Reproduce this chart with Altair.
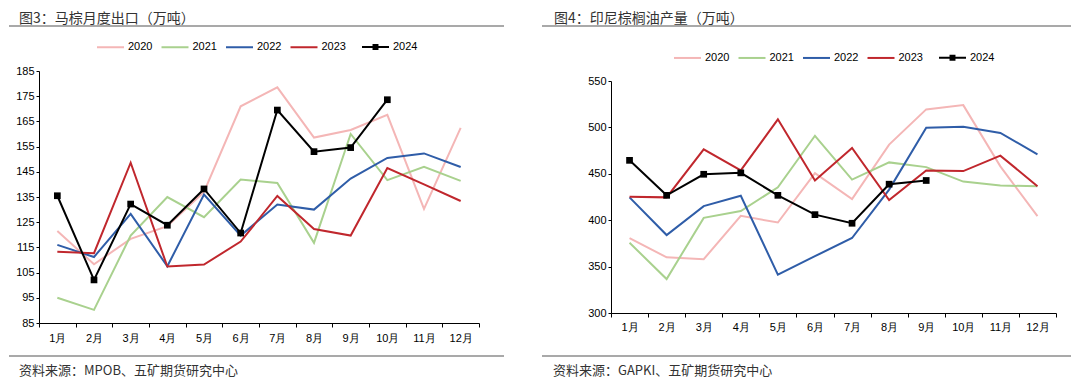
import altair as alt
import pandas as pd

months = [f"{i}月" for i in range(1, 13)]
years = ["2020", "2021", "2022", "2023", "2024"]
colors = ["#F4B6B6", "#A9D18E", "#2F5DA8", "#C0272D", "#000000"]

# 图3 马棕月度出口（万吨）
my_2020 = [121.5, 108.3, 118.4, 123.4, 137.0, 171.0, 178.5, 158.6, 161.6, 167.6, 130.3, 162.4]
my_2021 = [95.0, 90.2, 119.7, 135.0, 127.0, 141.9, 140.6, 116.8, 160.0, 141.7, 147.0, 141.4]
my_2022 = [116.0, 111.2, 128.3, 107.5, 136.0, 119.7, 132.0, 130.0, 142.3, 150.5, 152.3, 146.9]
my_2023 = [113.3, 112.7, 148.6, 107.4, 108.2, 117.3, 135.4, 122.3, 119.7, 146.5, 140.0, 133.4]
my_2024 = [135.5, 102.1, 132.2, 123.8, 138.2, 120.7, 169.5, 153.0, 154.6, 173.6]
my_ticks = [85, 95, 105, 115, 125, 135, 145, 155, 165, 175, 185]

# 图4 印尼棕榈油产量（万吨）
id_2020 = [380.8, 360.0, 358.0, 404.7, 397.5, 450.7, 422.8, 481.5, 519.4, 524.0, 458.0, 404.3]
id_2021 = [375.7, 336.6, 402.5, 409.8, 435.5, 491.0, 443.8, 462.3, 457.2, 441.6, 437.3, 436.6]
id_2022 = [424.6, 384.0, 415.2, 426.4, 341.3, 361.2, 380.8, 433.0, 499.6, 500.7, 494.0, 471.0]
id_2023 = [425.4, 424.6, 476.4, 453.6, 508.7, 442.8, 477.9, 421.7, 453.6, 452.9, 469.6, 436.6]
id_2024 = [464.5, 426.8, 449.5, 451.0, 426.8, 406.0, 396.7, 438.8, 442.8]
id_ticks = [300, 350, 400, 450, 500, 550]

title_left = "图3：马棕月度出口（万吨）"
title_right = "图4：印尼棕榈油产量（万吨）"
source_left = "资料来源：MPOB、五矿期货研究中心"
source_right = "资料来源：GAPKI、五矿期货研究中心"

CJK = "Noto Sans CJK SC"
LAT = "Liberation Sans"
# legend glyph: a line with a small filled square drawn by stacked strokes
LINE_SQUARE = ("M-1,0H1M-0.22,-0.15H0.22M-0.22,-0.075H0.22"
               "M-0.22,0.075H0.22M-0.22,0.15H0.22")


def long_df(series):
    rows = []
    for yr, vals in zip(years, series):
        for m, v in zip(months, vals):
            rows.append({"month": m, "year": yr, "value": v})
    return pd.DataFrame(rows)


def one(text):
    return pd.DataFrame({"t": [text]})


def panel(df, ticks, w, h, y_range, label_pad, lx, lx2, ly, title, title_x,
          rule_x, rule_x2, source, src_x):
    x = alt.X("month:N", sort=months, title=None, bandPosition=0.5,
              scale=alt.Scale(type="band", paddingInner=0, paddingOuter=0),
              axis=alt.Axis(tickBand="extent", labelAngle=0, tickSize=4,
                            labelPadding=label_pad, domainColor="#000",
                            tickColor="#000", labelColor="#000",
                            labelFont=LAT, labelFontSize=11))
    if y_range is not None:
        yscale = alt.Scale(domain=[ticks[0], ticks[-1]], nice=False, zero=False,
                           range=y_range)
    else:
        yscale = alt.Scale(domain=[ticks[0], ticks[-1]], nice=False, zero=False)
    y = alt.Y("value:Q", title=None, scale=yscale,
              axis=alt.Axis(values=ticks, grid=False, tickSize=3, labelPadding=2,
                            domainColor="#000", tickColor="#000",
                            labelColor="#000", labelFont=LAT, labelFontSize=11))
    legend = alt.Legend(
        title=None, orient="none", direction="horizontal", legendX=lx, legendY=ly,
        symbolType="stroke", symbolSize=729, symbolStrokeWidth=2,
        labelFont=LAT, labelFontSize=11, labelColor="#000", labelOffset=3,
        columnPadding=4.5, padding=0,
    )
    legend2 = alt.Legend(
        title=None, orient="none", direction="horizontal", legendX=lx2, legendY=ly,
        symbolType=LINE_SQUARE, symbolSize=729, symbolStrokeWidth=2,
        symbolStrokeColor="#000", symbolOpacity=1,
        labelFont=LAT, labelFontSize=11, labelColor="#000", labelOffset=3,
        padding=0,
    )
    past = df[df.year != "2024"]
    cur = df[df.year == "2024"]
    lines = alt.Chart(past).mark_line(strokeWidth=2).encode(
        x=x, y=y,
        color=alt.Color("year:N", scale=alt.Scale(domain=years[:4], range=colors[:4]),
                        legend=legend),
        order=alt.Order("year:N"),
    )
    line24 = alt.Chart(cur).mark_line(strokeWidth=2, color="#000").encode(
        x=x, y=y,
        opacity=alt.Opacity("year:O", scale=alt.Scale(domain=["2024"], range=[1]),
                            legend=legend2),
    )
    pts = alt.Chart(cur).mark_point(
        shape="square", filled=True, color="#000", opacity=1, size=45
    ).encode(x=x, y=y)
    spacer = alt.Chart(one(title)).mark_rule(strokeWidth=1, opacity=0).encode(
        x=alt.value(rule_x), x2=alt.value(rule_x + 10), y=alt.value(-62.5))
    t1 = alt.Chart(one(title)).mark_text(align="left", baseline="middle", font=CJK,
                                         fontSize=14, color="#333").encode(
        text="t:N", x=alt.value(title_x), y=alt.value(-52))
    r1 = alt.Chart(one(title)).mark_rule(color="#8c8c8c", strokeWidth=1.5).encode(
        x=alt.value(rule_x), x2=alt.value(rule_x2), y=alt.value(-45))
    r2 = alt.Chart(one(source)).mark_rule(color="#8c8c8c", strokeWidth=1.5).encode(
        x=alt.value(rule_x), x2=alt.value(rule_x2), y=alt.value(285))
    t2 = alt.Chart(one(source)).mark_text(align="left", baseline="middle", font=CJK,
                                          fontSize=13, color="#333").encode(
        text="t:N", x=alt.value(src_x), y=alt.value(300))
    return alt.layer(lines, line24, pts, spacer, t1, r1, r2, t2).properties(
        width=w, height=h)


left = panel(long_df([my_2020, my_2021, my_2022, my_2023, my_2024]), my_ticks,
             440, 252, None, 5, 57, 322, -38.5, title_left, -20,
             -30, 465, source_left, -20)
right = panel(long_df([id_2020, id_2021, id_2022, id_2023, id_2024]), id_ticks,
              445, 242, [242, 10], 4, 62, 327, -27.8, title_right, -57,
              -69, 460, source_right, -58)

chart = alt.hconcat(left, right, spacing=36).resolve_scale(
    color="independent", opacity="independent").resolve_legend(
    color="independent", opacity="independent").properties(
    padding=0).configure_view(stroke=None)

chart.save("out.html", embed_options={"renderer": "svg", "actions": False})
